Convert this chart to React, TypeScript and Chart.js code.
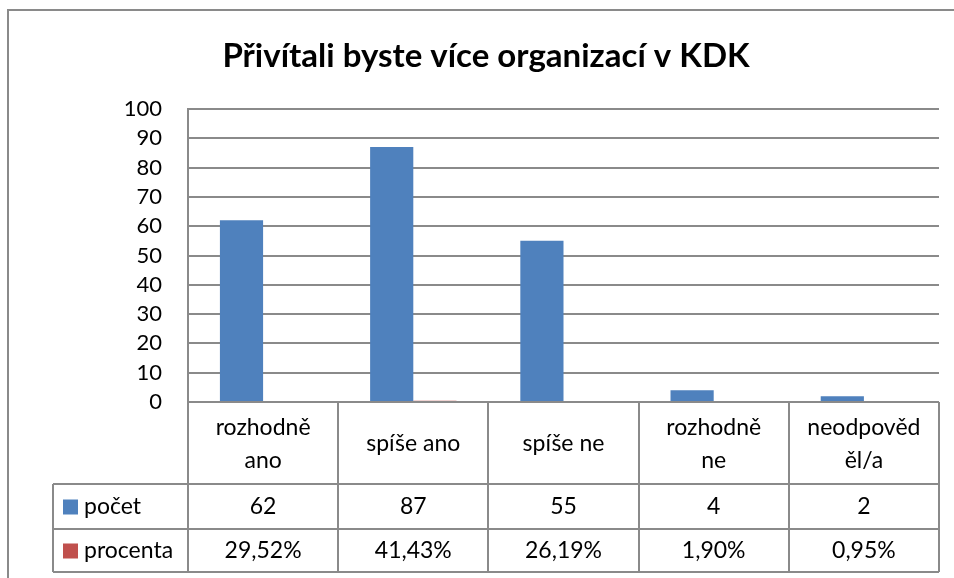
import React, { useEffect, useRef } from "react";
import { Chart, registerables } from "chart.js";

Chart.register(...registerables);

const TITLE = "Přivítali byste více organizací v KDK";
const categories: string[][] = [
  ["rozhodně", "ano"],
  ["spíše ano"],
  ["spíše ne"],
  ["rozhodně", "ne"],
  ["neodpověd", "ěl/a"],
];
const seriesNames = ["počet", "procenta"];
const pocet = [62, 87, 55, 4, 2];
const procenta = [0.2952, 0.4143, 0.2619, 0.019, 0.0095];
const yMin = 0;
const yMax = 100;
const yStep = 10;

const BLUE = "#4F81BD";
const RED = "#C0504D";
const LINE = "#8a8a8a";
const FONT = "Lato, 'Open Sans', sans-serif";

const fmtPct = (v: number) => (v * 100).toFixed(2).replace(".", ",") + "%";

const tablePlugin = {
  id: "excelTable",
  afterDraw(chart: any) {
    const ctx: CanvasRenderingContext2D = chart.ctx;
    const ca = chart.chartArea;
    const xs = chart.scales.x;
    const n = categories.length;
    const cw = (ca.right - ca.left) / n;
    const headerBottom = ca.bottom + 82;
    const row1Bottom = ca.bottom + 127;
    const row2Bottom = ca.bottom + 170;
    const tableLeft = 53;

    ctx.save();
    // outer chart border
    ctx.strokeStyle = LINE;
    ctx.lineWidth = 2;
    ctx.beginPath();
    ctx.moveTo(8, chart.height + 5);
    ctx.lineTo(8, 10);
    ctx.lineTo(chart.width + 5, 10);
    ctx.stroke();

    // title
    ctx.fillStyle = "#000";
    ctx.font = "bold 33px " + FONT;
    ctx.textAlign = "center";
    ctx.textBaseline = "alphabetic";
    ctx.fillText(TITLE, 486, 67);

    // table lines
    ctx.strokeStyle = LINE;
    ctx.lineWidth = 2;
    ctx.beginPath();
    ctx.moveTo(ca.left, ca.bottom);
    ctx.lineTo(ca.right, ca.bottom);
    for (const y of [headerBottom, row1Bottom, row2Bottom]) {
      ctx.moveTo(tableLeft, y);
      ctx.lineTo(ca.right, y);
    }
    ctx.moveTo(tableLeft, headerBottom);
    ctx.lineTo(tableLeft, row2Bottom);
    for (let i = 0; i <= n; i++) {
      const x = Math.round(i < n ? xs.getPixelForValue(i) - cw / 2 : ca.right);
      ctx.moveTo(x, ca.bottom);
      ctx.lineTo(x, row2Bottom);
    }
    ctx.stroke();

    // category labels
    ctx.fillStyle = "#000";
    ctx.font = "23px " + FONT;
    ctx.textAlign = "center";
    ctx.textBaseline = "middle";
    const headMid = (ca.bottom + headerBottom) / 2 + 1;
    const lh = 33;
    categories.forEach((lines, i) => {
      const cx = xs.getPixelForValue(i);
      const start = headMid - ((lines.length - 1) * lh) / 2;
      lines.forEach((t, j) => ctx.fillText(t, cx, start + j * lh));
    });

    // rows
    const rows = [
      { name: seriesNames[0], color: BLUE, vals: pocet.map((v) => String(v)), top: headerBottom, bottom: row1Bottom },
      { name: seriesNames[1], color: RED, vals: procenta.map(fmtPct), top: row1Bottom, bottom: row2Bottom },
    ];
    rows.forEach((r) => {
      const mid = (r.top + r.bottom) / 2;
      ctx.fillStyle = r.color;
      ctx.fillRect(63, mid - 7, 15, 15);
      ctx.fillStyle = "#000";
      ctx.textAlign = "left";
      ctx.fillText(r.name, 84, mid);
      ctx.textAlign = "center";
      r.vals.forEach((v, i) => ctx.fillText(v, xs.getPixelForValue(i), mid));
    });
    ctx.restore();
  },
};

export default function App() {
  const ref = useRef<HTMLCanvasElement | null>(null);
  useEffect(() => {
    if (!ref.current) return;
    const chart = new Chart(ref.current, {
      type: "bar",
      data: {
        labels: categories,
        datasets: [
          { label: seriesNames[0], data: pocet, backgroundColor: BLUE, categoryPercentage: 0.575, barPercentage: 1 },
          { label: seriesNames[1], data: procenta, backgroundColor: RED, categoryPercentage: 0.575, barPercentage: 1 },
        ],
      },
      options: {
        responsive: false,
        animation: false,
        layout: { padding: { left: 0, top: 109, right: 15, bottom: 176 } },
        plugins: { legend: { display: false }, title: { display: false }, tooltip: { enabled: false } },
        scales: {
          x: { display: false },
          y: {
            min: yMin,
            max: yMax,
            ticks: {
              stepSize: yStep,
              autoSkip: false,
              color: "#000",
              font: { family: FONT, size: 22 },
              padding: 26,
            },
            grid: { color: LINE, lineWidth: 2, drawTicks: false },
            border: { display: true, color: LINE, width: 2 },
            afterFit: (s: any) => {
              s.width = 188;
            },
          },
        },
      },
      plugins: [tablePlugin],
    });
    return () => chart.destroy();
  }, []);
  return (
    <div style={{ position: "absolute", left: 0, top: 0, width: 954, height: 578, background: "#fff" }}>
      <canvas ref={ref} width={954} height={578} style={{ display: "block" }} />
    </div>
  );
}
